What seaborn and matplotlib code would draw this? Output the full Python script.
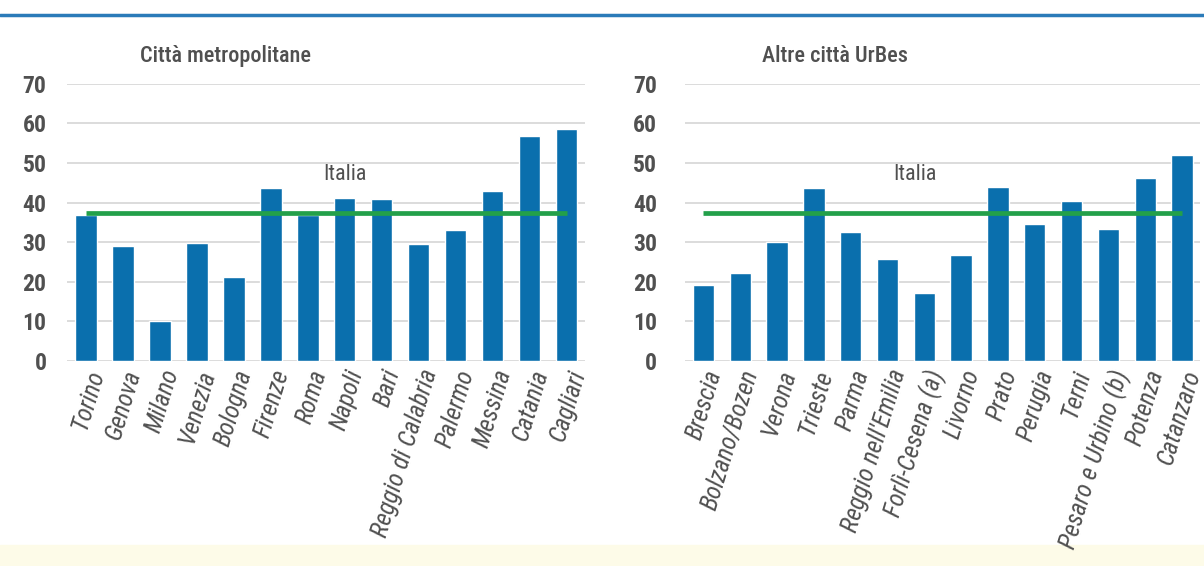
import matplotlib
matplotlib.use("Agg")
import matplotlib.pyplot as plt
import seaborn as sns
from matplotlib.lines import Line2D
from matplotlib.patches import Rectangle

# --- Dati ---
metro_cities = ["Torino", "Genova", "Milano", "Venezia", "Bologna", "Firenze", "Roma",
                "Napoli", "Bari", "Reggio di Calabria", "Palermo", "Messina", "Catania", "Cagliari"]
metro_values = [36.8, 29.0, 10.2, 29.9, 21.3, 43.7, 37.0, 41.1, 40.8, 29.5, 33.0, 43.0, 56.8, 58.7]

other_cities = ["Brescia", "Bolzano/Bozen", "Verona", "Trieste", "Parma", "Reggio nell'Emilia",
                "Forlì-Cesena (a)", "Livorno", "Prato", "Perugia", "Terni",
                "Pesaro e Urbino (b)", "Potenza", "Catanzaro"]
other_values = [19.1, 22.2, 30.0, 43.6, 32.7, 25.8, 17.1, 26.8, 44.0, 34.5, 40.4, 33.4, 46.3, 52.1]

italia = 37.5
titles = ["Città metropolitane", "Altre città UrBes"]
yticks = [0, 10, 20, 30, 40, 50, 60, 70]

BAR = "#0a6fad"
GREEN = "#23a04a"
TEXT = "#505050"
GRID = "#d6d6d6"

sns.set_style("white")
plt.rcParams["font.family"] = ["Roboto Condensed", "Roboto", "DejaVu Sans"]

fig = plt.figure(figsize=(12.04, 5.66), dpi=100)
ax1 = fig.add_axes([0.056, 0.362, 0.430, 0.490])
ax2 = fig.add_axes([0.569, 0.362, 0.428, 0.490])


def draw(ax, cities, values, title, title_x, label_x, ypad):
    sns.barplot(x=cities, y=values, color=BAR, saturation=1, width=0.58, ax=ax, zorder=2)
    ax.set_ylim(0, 70)
    ax.set_xlim(-0.5, len(cities) - 0.5)
    ax.set_yticks(yticks)
    ax.yaxis.grid(True, color=GRID, linewidth=1.2, zorder=0)
    ax.set_axisbelow(True)
    for s in ax.spines.values():
        s.set_visible(False)
    ax.tick_params(axis="y", labelsize=17, colors=TEXT, length=0, pad=ypad)
    ax.tick_params(axis="x", length=0, pad=4)
    ax.set_xticks(range(len(cities)))
    ax.set_xticklabels(cities, rotation=73, ha="right", rotation_mode="anchor",
                       fontsize=18, style="italic", color=TEXT)
    for lab in ax.get_yticklabels():
        lab.set_fontweight("bold")
    ax.hlines(italia, 0, len(cities) - 1, color=GREEN, linewidth=3.4, zorder=3)
    ax.text(label_x, 47, "Italia", ha="center", va="center", fontsize=16, color=TEXT)
    ax.text(title_x, 1.10, title, transform=ax.transAxes, ha="left", va="center",
            fontsize=16, fontweight="medium", color=TEXT)
    ax.set_xlabel("")
    ax.set_ylabel("")


draw(ax1, metro_cities, metro_values, titles[0], 0.14, 7.0, 15)
draw(ax2, other_cities, other_values, titles[1], 0.15, 5.75, 20)

# linea blu in alto e banda in basso
fig.add_artist(Line2D([0.0, 1.0], [0.973, 0.973], color="#2b7bb9", linewidth=2.5,
                      transform=fig.transFigure))
fig.add_artist(Rectangle((0, 0), 1, 0.037, color="#fdfbe8", transform=fig.transFigure, zorder=-1))

fig.savefig("out.png", dpi=100)
